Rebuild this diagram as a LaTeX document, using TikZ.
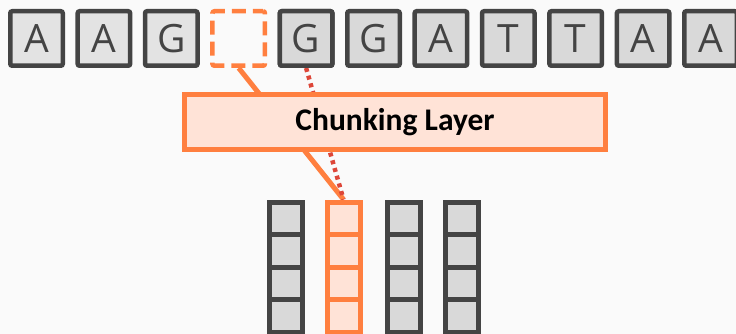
\documentclass[tikz,border=0pt]{standalone}
\usepackage{fontspec}
\setmainfont{Open Sans}
\newfontfamily\layerfont{Carlito}
\definecolor{bg}{HTML}{FAFAFA}
\definecolor{ink}{HTML}{444444}
\definecolor{cellgray}{HTML}{D9D9D9}
\definecolor{cellpale}{HTML}{E3E3E3}
\definecolor{accent}{HTML}{FF7F3F}
\definecolor{accentfill}{HTML}{FFE3D7}
\definecolor{linkred}{HTML}{DD4638}
\tikzset{
  base/.style={draw=ink, fill=cellgray, line width=4.5pt, rounded corners=2pt,
    minimum width=52.5pt, minimum height=54.5pt, inner sep=0pt,
    text=ink, font=\fontsize{39}{39}\selectfont},
  gapbox/.style={draw=accent, line width=4.5pt, rounded corners=2pt,
    dash pattern=on 14pt off 7pt, dash phase=4pt,
    minimum width=52.5pt, minimum height=54.5pt, inner sep=0pt},
  layerbox/.style={draw=accent, fill=accentfill, line width=5pt,
    minimum width=421pt, minimum height=55pt, inner sep=0pt,
    font=\layerfont\bfseries\fontsize{31.5}{32}\selectfont},
  chunkcell/.style={draw=ink, fill=cellgray, line width=5pt,
    minimum width=33pt, minimum height=32.5pt, inner sep=0pt},
  activecell/.style={chunkcell, draw=accent, fill=accentfill},
  link/.style={draw=accent, line width=5pt},
  attend/.style={draw=linkred, line width=4.5pt, dash pattern=on 4pt off 4pt},
}
\begin{document}
\begin{tikzpicture}[x=1pt,y=-1pt]
\fill[bg] (0,0) rectangle (736,334);
\useasboundingbox (0,0) rectangle (736,334);

% input sequence, the fourth base is masked
\foreach \b [count=\i from 0] in {A,A,G,,G,G,A,T,T,A,A} {
  \ifnum\i=3
    \node[gapbox] (t\i) at ({36.5+67.4*\i},38.5) {};
  \else\ifnum\i<3
    \node[base, fill=cellpale] (t\i) at ({36.5+67.4*\i},38.5) {\b};
  \else
    \node[base] (t\i) at ({36.5+67.4*\i},38.5) {\b};
  \fi\fi
}

% chunk columns
\foreach \cx [count=\j from 0] in {286,343.5,404,461.5} {
  \foreach \k in {0,1,2,3} {
    \ifnum\j=1
      \node[activecell] (c\j-\k) at (\cx,{218.25+32.5*\k}) {};
    \else
      \node[chunkcell] (c\j-\k) at (\cx,{218.25+32.5*\k}) {};
    \fi
  }
}

% connectors from the masked base and its neighbour into the active chunk
\draw[link] (t3.south) -- (c1-0.north);
\draw[attend] (t4.south) -- (c1-0.north);

\node[layerbox] (layer) at (395,122) {Chunking Layer};

% active column and the neighbour base sit above the connectors
\foreach \k in {0,1,2,3} {
  \node[activecell] at (c1-\k) {};
}
\node[base] at (t4) {G};
\end{tikzpicture}
\end{document}
